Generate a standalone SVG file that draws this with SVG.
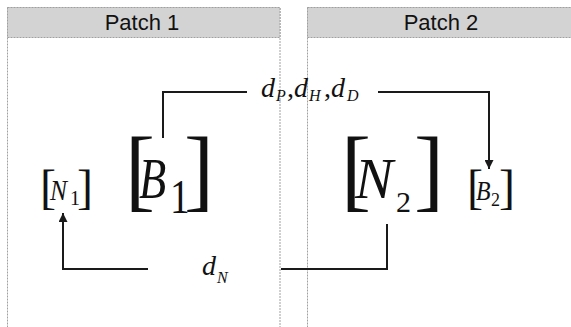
<svg xmlns="http://www.w3.org/2000/svg" width="571" height="327" viewBox="0 0 571 327">
<style>
.panel{fill:#ffffff;stroke:#a0a0a0;stroke-width:1;stroke-dasharray:2 1}
.hdr{fill:#d3d3d3;stroke:#a0a0a0;stroke-width:1;stroke-dasharray:2 1}
.htxt{font-family:"Liberation Sans",Arial,sans-serif;font-size:22px;fill:#111;text-anchor:middle}
.m{font-family:"Liberation Serif","Times New Roman",serif;fill:#111}
.i{font-style:italic}
.conn{fill:none;stroke:#1a1a1a;stroke-width:2}
</style>
<defs>
<marker id="ah" viewBox="0 0 10 10" refX="10" refY="5" markerWidth="4.5" markerHeight="4.5" orient="auto" markerUnits="strokeWidth">
<path d="M0,0 L10,5 L0,10 z" fill="#1a1a1a"/>
</marker>
</defs>
<rect width="571" height="327" fill="#ffffff"/>
<g id="patch1">
<rect class="panel" x="7.5" y="7.5" width="272.5" height="330"/>
<rect class="hdr" x="7.5" y="7.5" width="272.5" height="30"/>
<text class="htxt" x="142" y="30">Patch 1</text>
</g>
<g id="patch2">
<rect class="panel" x="307.5" y="7.5" width="280" height="330"/>
<rect class="hdr" x="307.5" y="7.5" width="280" height="30"/>
<text class="htxt" x="441" y="30">Patch 2</text>
</g>
<g id="connectors">
<polyline class="conn" points="163,138 163,92 247,92"/>
<polyline class="conn" points="378,92 489,92 489,169" marker-end="url(#ah)"/>
<polyline class="conn" points="148,269 63,269 63,213" marker-end="url(#ah)"/>
<polyline class="conn" points="281,269 387,269 387,224"/>
<text id="label-top" class="m" y="97"><tspan class="i" x="261" font-size="28">d</tspan><tspan class="i" x="276" y="101" font-size="16">P</tspan><tspan x="287" y="97" font-size="28">,</tspan><tspan class="i" x="294" font-size="28">d</tspan><tspan class="i" x="309" y="101" font-size="16">H</tspan><tspan x="324" y="97" font-size="28">,</tspan><tspan class="i" x="331" font-size="28">d</tspan><tspan class="i" x="347" y="101" font-size="16">D</tspan></text>
<text id="label-bottom" class="m" y="275"><tspan class="i" x="202" font-size="28">d</tspan><tspan class="i" x="217" y="283" font-size="16">N</tspan></text>
</g>
<g id="N1">
<text class="m" x="40" y="203" font-size="48">[</text>
<text class="m i" transform="translate(50,200) scale(0.85,1)" font-size="30">N</text>
<text class="m" x="70" y="205" font-size="20">1</text>
<text class="m" x="77" y="203" font-size="48">]</text>
</g>
<g id="B1">
<text class="m" x="125" y="200" font-size="90">[</text>
<text class="m i" transform="translate(139,198) scale(0.78,1)" font-size="57">B</text>
<text class="m" transform="translate(170,213) scale(0.8,1)" font-size="49">1</text>
<text class="m" x="184" y="200" font-size="90">]</text>
</g>
<g id="N2">
<text class="m" x="341" y="200" font-size="90">[</text>
<text class="m i" x="355" y="198" font-size="57">N</text>
<text class="m" x="396" y="212" font-size="30">2</text>
<text class="m" x="414" y="200" font-size="90">]</text>
</g>
<g id="B2">
<text class="m" x="467" y="203" font-size="48">[</text>
<text class="m i" transform="translate(476,200) scale(0.85,1)" font-size="28">B</text>
<text class="m" x="491" y="206" font-size="18">2</text>
<text class="m" x="499" y="203" font-size="48">]</text>
</g>
</svg>
